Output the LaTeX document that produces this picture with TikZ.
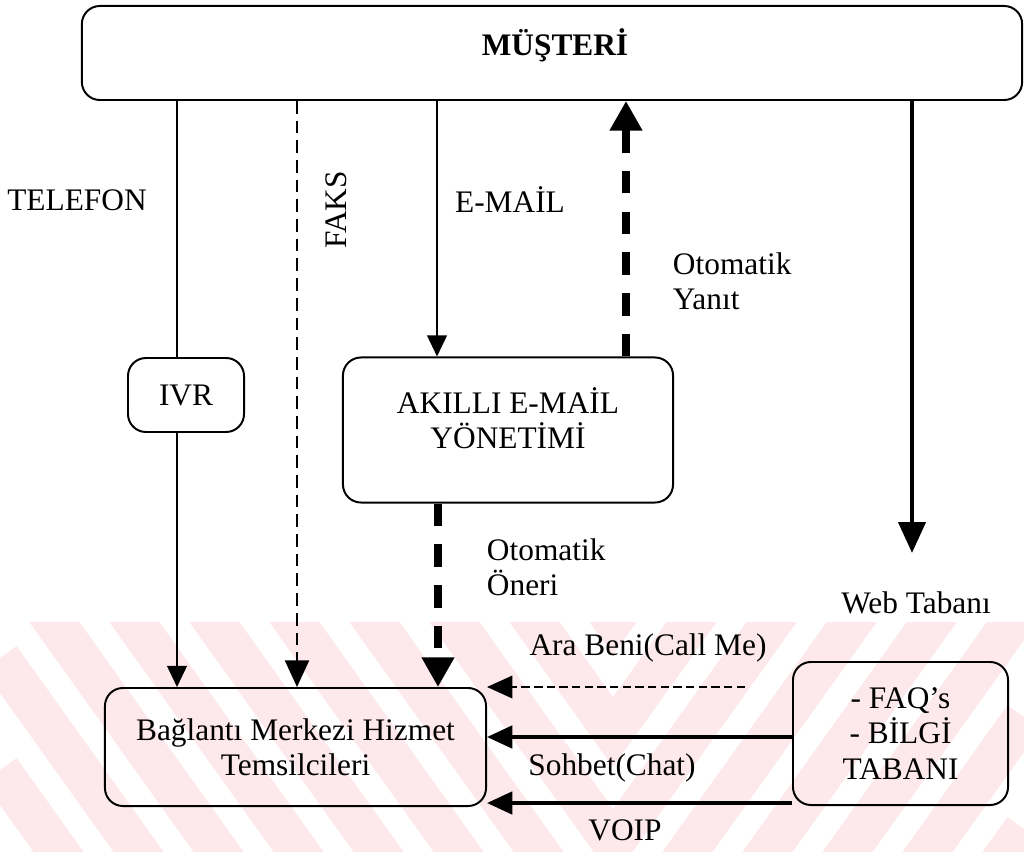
\documentclass[tikz,border=0pt]{standalone}
\usepackage{fontspec}
\setmainfont{Liberation Serif}
\usetikzlibrary{arrows.meta,calc,backgrounds}
\definecolor{WMark}{HTML}{FDE8EC}

\tikzset{
  kutu/.style={draw, line width=1.4pt, rounded corners=0.45cm},
  yazi/.style={font=\fontsize{22.3}{25}\selectfont, align=center},
  duz/.style={line width=1.4pt},
  ince/.style={line width=1.4pt, -{Triangle[length=15pt,width=14pt]}},
  faksok/.style={line width=2pt, dash pattern=on 9pt off 5pt, -{Triangle[length=19pt,width=17pt]}},
  kalinkesik/.style={line width=5pt, dash pattern=on 16pt off 13pt, -{Triangle[length=21pt,width=22pt]}},
  webok/.style={line width=3.5pt, -{Triangle[length=22pt,width=19pt]}},
  yatayok/.style={line width=2.4pt, -{Triangle[length=18pt,width=16pt]}}
}

\begin{document}
\begin{tikzpicture}[x=0.025cm, y=-0.025cm]
\useasboundingbox (0,0) rectangle (1024,852);

% kutular
\node[kutu, minimum width=23.5cm, minimum height=2.35cm] (musteri) at (552,53) {};
\node[yazi] (musteriyazi) at (555,45) {\bfseries MÜŞTERİ};
\node[kutu, yazi, minimum width=2.9cm, minimum height=1.85cm] (ivr) at (186,395) {IVR};
\node[kutu, minimum width=8.25cm, minimum height=3.625cm] (akilli) at (508,430) {};
\node[yazi] (akilliyazi) at (508,418) {AKILLI E-MAİL\\YÖNETİMİ};
\node[kutu, yazi, minimum width=9.525cm, minimum height=2.95cm] (baglanti) at (295.5,747) {Bağlantı Merkezi Hizmet\\Temsilcileri};
\node[kutu, yazi, minimum width=5.375cm, minimum height=3.575cm] (faq) at (900.5,733.5) {- FAQ’s\\- BİLGİ\\TABANI};

% hat konumlari
\coordinate (tel) at (177,0);
\coordinate (faks) at (297,0);
\coordinate (mail) at (437,0);
\coordinate (yanit) at (626,0);
\coordinate (web) at (912,553);
\coordinate (oneri) at (438,0);
\coordinate (arabeni) at (745,687);
\coordinate (sohbet) at (0,737);
\coordinate (voip) at (0,803);

% baglantilar
\draw[duz] (musteri.south -| tel) -- (ivr.north -| tel);
\draw[ince] (ivr.south -| tel) -- (baglanti.north -| tel);
\draw[faksok] (musteri.south -| faks) -- (baglanti.north -| faks);
\draw[ince] (musteri.south -| mail) -- (akilli.north -| mail);
\draw[kalinkesik] (akilli.north -| yanit) -- (musteri.south -| yanit);
\draw[webok] (musteri.south -| web) -- (web);
\draw[kalinkesik] (akilli.south -| oneri) -- (baglanti.north -| oneri);
\draw[yatayok, line width=1.4pt, dash pattern=on 6pt off 3pt] (arabeni) -- (arabeni -| baglanti.east);
\draw[yatayok] (faq.west |- sohbet) -- (baglanti.east |- sohbet);
\draw[yatayok] (faq.west |- voip) -- (baglanti.east |- voip);

% etiketler
\node[yazi] (telefon) at (77,200) {TELEFON};
\node[yazi, rotate=90] (faksyazi) at (336,210) {FAKS};
\node[yazi] (mailyazi) at (510,200) {E-MAİL};
\node[yazi, align=left, anchor=west] (yanityazi) at (668,281) {Otomatik\\Yanıt};
\node[yazi, align=left, anchor=west] (oneriyazi) at (482,567) {Otomatik\\Öneri};
\node[yazi] (webyazi) at (916,603) {Web Tabanı};
\node[yazi] (arayazi) at (648,648) {Ara Beni(Call Me)};
\node[yazi] (sohbetyazi) at (612,768) {Sohbet(Chat)};
\node[yazi] (voipyazi) at (625,830) {VOIP};

% filigran
\begin{scope}[on background layer]
  \clip (0,622) rectangle (1024,852);
  \foreach \k in {-4,...,6}
  {
    \pgfmathsetmacro\tepe{1068+112*\k}
    \draw[WMark, line width=29pt] (0,\tepe-858) -- (613,\tepe) -- (1024,\tepe-575);
  }
\end{scope}
\end{tikzpicture}
\end{document}
